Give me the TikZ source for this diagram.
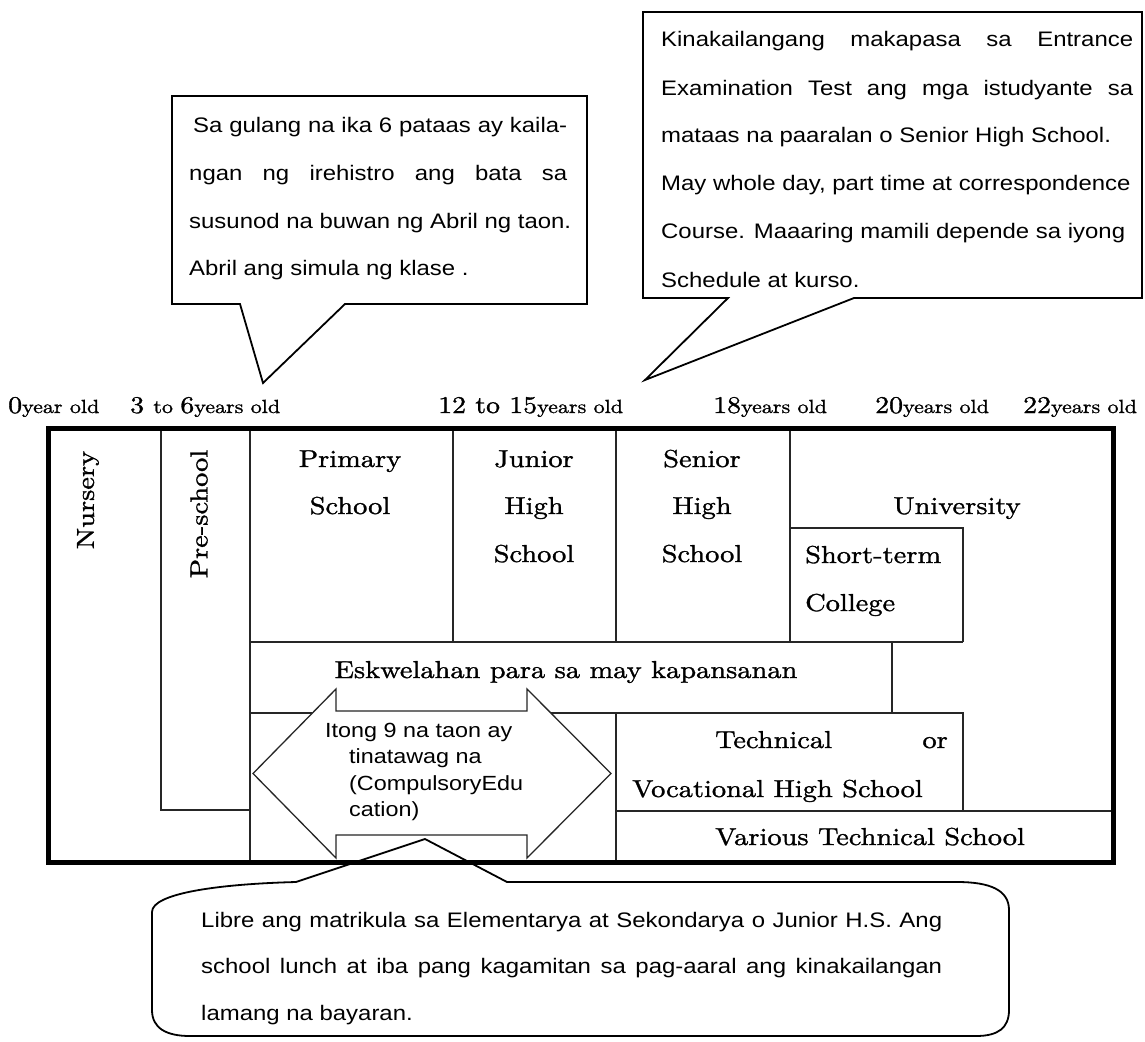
\documentclass[tikz,border=0pt]{standalone}
\usepackage{fontspec}
\newfontfamily\cent{lmroman10-regular.otf}[FakeStretch=1.16,FakeBold=1.2]
\newfontfamily\gothic{Liberation Sans}[FakeStretch=1.14]
\newcommand\agebig{\fontsize{24}{28}\selectfont}
\newcommand\agesmall{\fontsize{19}{22}\selectfont}
\begin{document}
\begin{tikzpicture}[x=1pt,y=-1pt,line join=miter,
  grid/.style={line width=1.3pt,draw=black!85},
  outer/.style={line width=5pt,draw=black},
  callout/.style={line width=1.8pt,draw=black},
  lbl/.style={font=\cent\fontsize{24.5}{28}\selectfont,inner sep=0pt},
  age/.style={font=\cent,inner sep=0pt,anchor=base west},
  ctext/.style={font=\gothic\fontsize{21}{25}\selectfont,inner sep=0pt,anchor=base west},
  atext/.style={font=\gothic\fontsize{20.5}{24}\selectfont,inner sep=0pt,anchor=base west}]
\useasboundingbox (0,0) rectangle (1145,1041);
\fill[white] (0,0) rectangle (1145,1041);

% callout 1
\draw[callout] (172,96) -- (587,96) -- (587,304) -- (345,304) -- (263,383) -- (240,304) -- (172,304) -- cycle;
\node[ctext] (c1a) at (193,132) {\makebox[374pt][s]{Sa gulang na ika 6 pataas ay kaila-}};
\node[ctext] (c1b) at (189,180) {\makebox[378pt][s]{ngan ng irehistro ang bata sa}};
\node[ctext] (c1c) at (189,228) {susunod na buwan ng Abril ng taon.};
\node[ctext] (c1d) at (189,275) {Abril ang simula ng klase .};

% callout 2
\draw[callout] (643,12) -- (1142,12) -- (1142,298) -- (854,298) -- (645,380) -- (728,298) -- (643,298) -- cycle;
\node[ctext] (c2a) at (661,47) {\makebox[472pt][s]{Kinakailangang makapasa sa Entrance}};
\node[ctext] (c2b) at (661,95) {\makebox[472pt][s]{Examination Test ang mga istudyante sa}};
\node[ctext] (c2c) at (661,142) {mataas na paaralan o Senior High School.};
\node[ctext] (c2d) at (661,190) {May whole day, part time at correspondence};
\node[ctext] (c2e) at (661,238) {Course. Maaaring mamili depende sa iyong};
\node[ctext] (c2f) at (661,287) {Schedule at kurso.};

% age labels
\node[age] (a0) at (8,413) {\agebig 0\agesmall year old};
\node[age] (a3) at (130,413) {\agebig 3 \agesmall to \agebig 6\agesmall years old};
\node[age] (a12) at (438,413) {\agebig 12 to 15\agesmall years old};
\node[age] (a18) at (713,413) {\agebig 18\agesmall years old};
\node[age] (a20) at (875,413) {\agebig 20\agesmall years old};
\node[age] (a22) at (1023,413) {\agebig 22\agesmall years old};

% grid
\draw[grid] (161,428) -- (161,810) -- (250,810);
\draw[grid] (250,428) -- (250,862);
\draw[grid] (453,428) -- (453,642);
\draw[grid] (616,428) -- (616,642);
\draw[grid] (790,428) -- (790,642);
\draw[grid] (790,528) -- (963,528) -- (963,642);
\draw[grid] (250,642) -- (963,642);
\draw[grid] (892,642) -- (892,713);
\draw[grid] (250,713) -- (963,713) -- (963,811);
\draw[grid] (616,713) -- (616,862);
\draw[grid] (616,811) -- (1113,811);

% labels
\node[lbl,rotate=90] (nur) at (88,500) {Nursery};
\node[lbl,rotate=90] (pre) at (199,514) {Pre-school};
\node[lbl,anchor=base] (pr1) at (350,467) {Primary};
\node[lbl,anchor=base] (pr2) at (350,514) {School};
\node[lbl,anchor=base] (jh1) at (534,467) {Junior};
\node[lbl,anchor=base] (jh2) at (534,514) {High};
\node[lbl,anchor=base] (jh3) at (534,562) {School};
\node[lbl,anchor=base] (sh1) at (702,467) {Senior};
\node[lbl,anchor=base] (sh2) at (702,514) {High};
\node[lbl,anchor=base] (sh3) at (702,562) {School};
\node[lbl,anchor=base] (uni) at (957,514) {University};
\node[lbl,anchor=base west] (st1) at (805,563) {Short-term};
\node[lbl,anchor=base west] (st2) at (805,611) {College};
\node[lbl,anchor=base] (esk) at (566,678) {Eskwelahan para sa may kapansanan};
\node[lbl,anchor=base west] (tv1) at (715,748) {Technical};
\node[lbl,anchor=base east] (tv2) at (948,748) {or};
\node[lbl,anchor=base west] (tv3) at (632,797) {Vocational High School};
\node[lbl,anchor=base west] (vts) at (715,845) {Various Technical School};

% double arrow
\draw[grid,fill=white] (253,773.5) -- (336,689) -- (336,711) -- (527,711) -- (527,689) -- (611,773.5) -- (527,858) -- (527,835) -- (336,835) -- (336,858) -- cycle;
\node[atext] (ar1) at (325,737) {Itong 9 na taon ay};
\node[atext] (ar2) at (349,763) {tinatawag na};
\node[atext] (ar3) at (349,790) {(CompulsoryEdu};
\node[atext] (ar4) at (349,816) {cation)};

% outer frame
\draw[outer] (48,428) rectangle (1113,862);

% bottom callout
\draw[callout] (296,882) -- (425,839) -- (507,882) -- (957,882)
  .. controls (990,882) and (1009,890) .. (1009,910) -- (1009,1010)
  .. controls (1009,1028) and (998,1036) .. (976,1036) -- (190,1036)
  .. controls (166,1036) and (152,1028) .. (152,1010) -- (152,912)
  .. controls (152,893) and (220,884) .. (296,882) -- cycle;
\node[ctext] (b1) at (201,927) {\makebox[741pt][s]{Libre ang matrikula sa Elementarya at Sekondarya o Junior H.S. Ang}};
\node[ctext] (b2) at (201,973) {\makebox[741pt][s]{school lunch at iba pang kagamitan sa pag-aaral ang kinakailangan}};
\node[ctext] (b3) at (201,1020) {lamang na bayaran.};
\end{tikzpicture}
\end{document}
